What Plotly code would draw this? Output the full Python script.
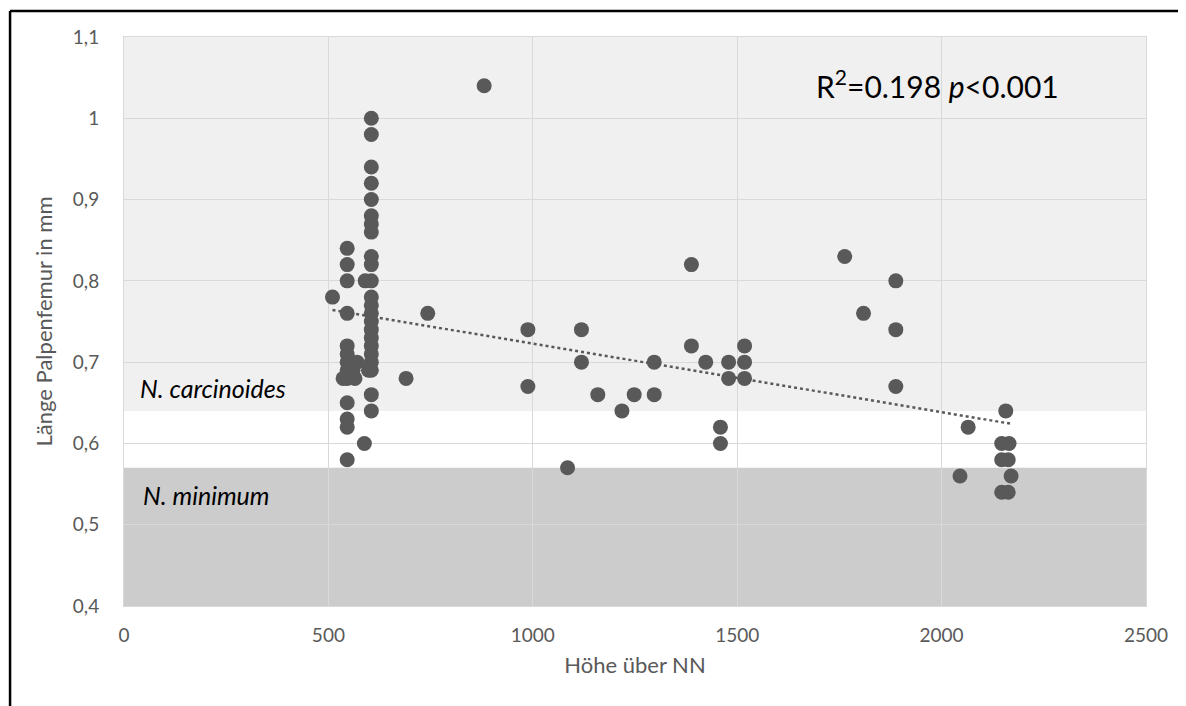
import numpy as np
import plotly.graph_objects as go

# Altitude (m) and palp femur length (mm)
hoehe = [546, 546, 546, 546, 546, 546, 546, 546, 546, 536, 565, 570, 560, 546, 546, 546, 546,
         510, 588, 590,
         605, 605, 605, 605, 605, 605, 605, 605, 605, 605, 605, 605, 605, 605, 605, 605, 605, 605,
         605, 605, 605, 605, 605, 598,
         690, 743, 881,
         988, 988, 1085, 1119, 1119, 1159, 1218, 1248, 1297, 1297, 1388, 1388, 1423, 1459, 1459,
         1479, 1479, 1518, 1518, 1518,
         1763, 1809, 1888, 1888, 1888,
         2045, 2065, 2157, 2147, 2165, 2147, 2163, 2170, 2147, 2163]
laenge = [0.84, 0.82, 0.80, 0.76, 0.72, 0.71, 0.70, 0.69, 0.68, 0.68, 0.68, 0.70, 0.69, 0.65, 0.63, 0.62, 0.58,
          0.78, 0.60, 0.80,
          1.00, 0.98, 0.94, 0.92, 0.90, 0.88, 0.87, 0.86, 0.83, 0.82, 0.80, 0.78, 0.77, 0.76, 0.75, 0.74, 0.73, 0.72,
          0.71, 0.70, 0.69, 0.66, 0.64, 0.69,
          0.68, 0.76, 1.04,
          0.74, 0.67, 0.57, 0.74, 0.70, 0.66, 0.64, 0.66, 0.70, 0.66, 0.72, 0.82, 0.70, 0.62, 0.60,
          0.70, 0.68, 0.72, 0.70, 0.68,
          0.83, 0.76, 0.80, 0.74, 0.67,
          0.56, 0.62, 0.64, 0.60, 0.60, 0.58, 0.58, 0.56, 0.54, 0.54]

# Species bands (mm)
carcinoides_band = [0.64, 1.1]
minimum_band = [0.4, 0.57]

x_ticks = [0, 500, 1000, 1500, 2000, 2500]
y_ticks = [0.4, 0.5, 0.6, 0.7, 0.8, 0.9, 1.0, 1.1]

stat_text = "R<sup>2</sup>=0.198 <i>p</i>&lt;0.001"

# linear trend from the data
slope, intercept = np.polyfit(hoehe, laenge, 1)
tx = np.array([min(hoehe), max(hoehe)])
ty = slope * tx + intercept

grey = "#595959"
font = "Lato"

fig = go.Figure()
fig.add_trace(go.Scatter(x=hoehe, y=laenge, mode="markers",
                         marker=dict(size=15, color=grey, line=dict(width=0)),
                         showlegend=False, hoverinfo="x+y"))
fig.add_trace(go.Scatter(x=tx, y=ty, mode="lines",
                         line=dict(color=grey, width=2.5, dash="dot"),
                         showlegend=False, hoverinfo="skip"))

fig.add_shape(type="rect", xref="paper", yref="y", x0=0, x1=1,
              y0=carcinoides_band[0], y1=carcinoides_band[1],
              fillcolor="#f0f0f0", line=dict(width=0), layer="below")
fig.add_shape(type="rect", xref="paper", yref="y", x0=0, x1=1,
              y0=minimum_band[0], y1=minimum_band[1],
              fillcolor="#cccccc", line=dict(width=0), layer="below")

# outer frame (left and top edges)
fig.add_shape(type="line", xref="paper", yref="paper", x0=-0.1115, x1=-0.1115,
              y0=-0.3, y1=1.0457, line=dict(color="black", width=2.5))
fig.add_shape(type="line", xref="paper", yref="paper", x0=-0.1115, x1=1.1,
              y0=1.0457, y1=1.0457, line=dict(color="black", width=2.5))

fig.add_annotation(x=0.014, xref="paper", y=0.668, yref="y", text="<i>N. carcinoides</i>",
                   showarrow=False, xanchor="left", yanchor="middle",
                   font=dict(family=font, size=25, color="black"))
fig.add_annotation(x=0.017, xref="paper", y=0.537, yref="y", text="<i>N. minimum</i>",
                   showarrow=False, xanchor="left", yanchor="middle",
                   font=dict(family=font, size=25, color="black"))
fig.add_annotation(x=1687, xref="x", y=1.042, yref="y", text=stat_text,
                   showarrow=False, xanchor="left", yanchor="middle",
                   font=dict(family=font, size=30, color="black"))

fig.update_xaxes(range=[0, 2500], tickvals=x_ticks, showgrid=True, gridcolor="#d9d9d9",
                 gridwidth=1, zeroline=False, showline=True, linecolor="#d9d9d9", mirror=True,
                 tickfont=dict(family=font, size=19, color=grey), ticks="", ticklabelstandoff=12,
                 title=dict(text="Höhe über NN", font=dict(family=font, size=22, color=grey), standoff=12))
fig.update_yaxes(range=[0.4, 1.1], tickvals=y_ticks, showgrid=True, gridcolor="#d9d9d9",
                 gridwidth=1, zeroline=False, showline=True, linecolor="#d9d9d9", mirror=True,
                 tickfont=dict(family=font, size=19, color=grey), ticks="", ticklabelstandoff=20,
                 title=dict(text="Länge Palpenfemur in mm", font=dict(family=font, size=22, color=grey), standoff=14))

fig.update_layout(width=1178, height=698, margin=dict(l=116, r=40, t=29, b=100),
                  paper_bgcolor="white", plot_bgcolor="white", separators=", ",
                  font=dict(family=font))
fig.write_html("out.html")
